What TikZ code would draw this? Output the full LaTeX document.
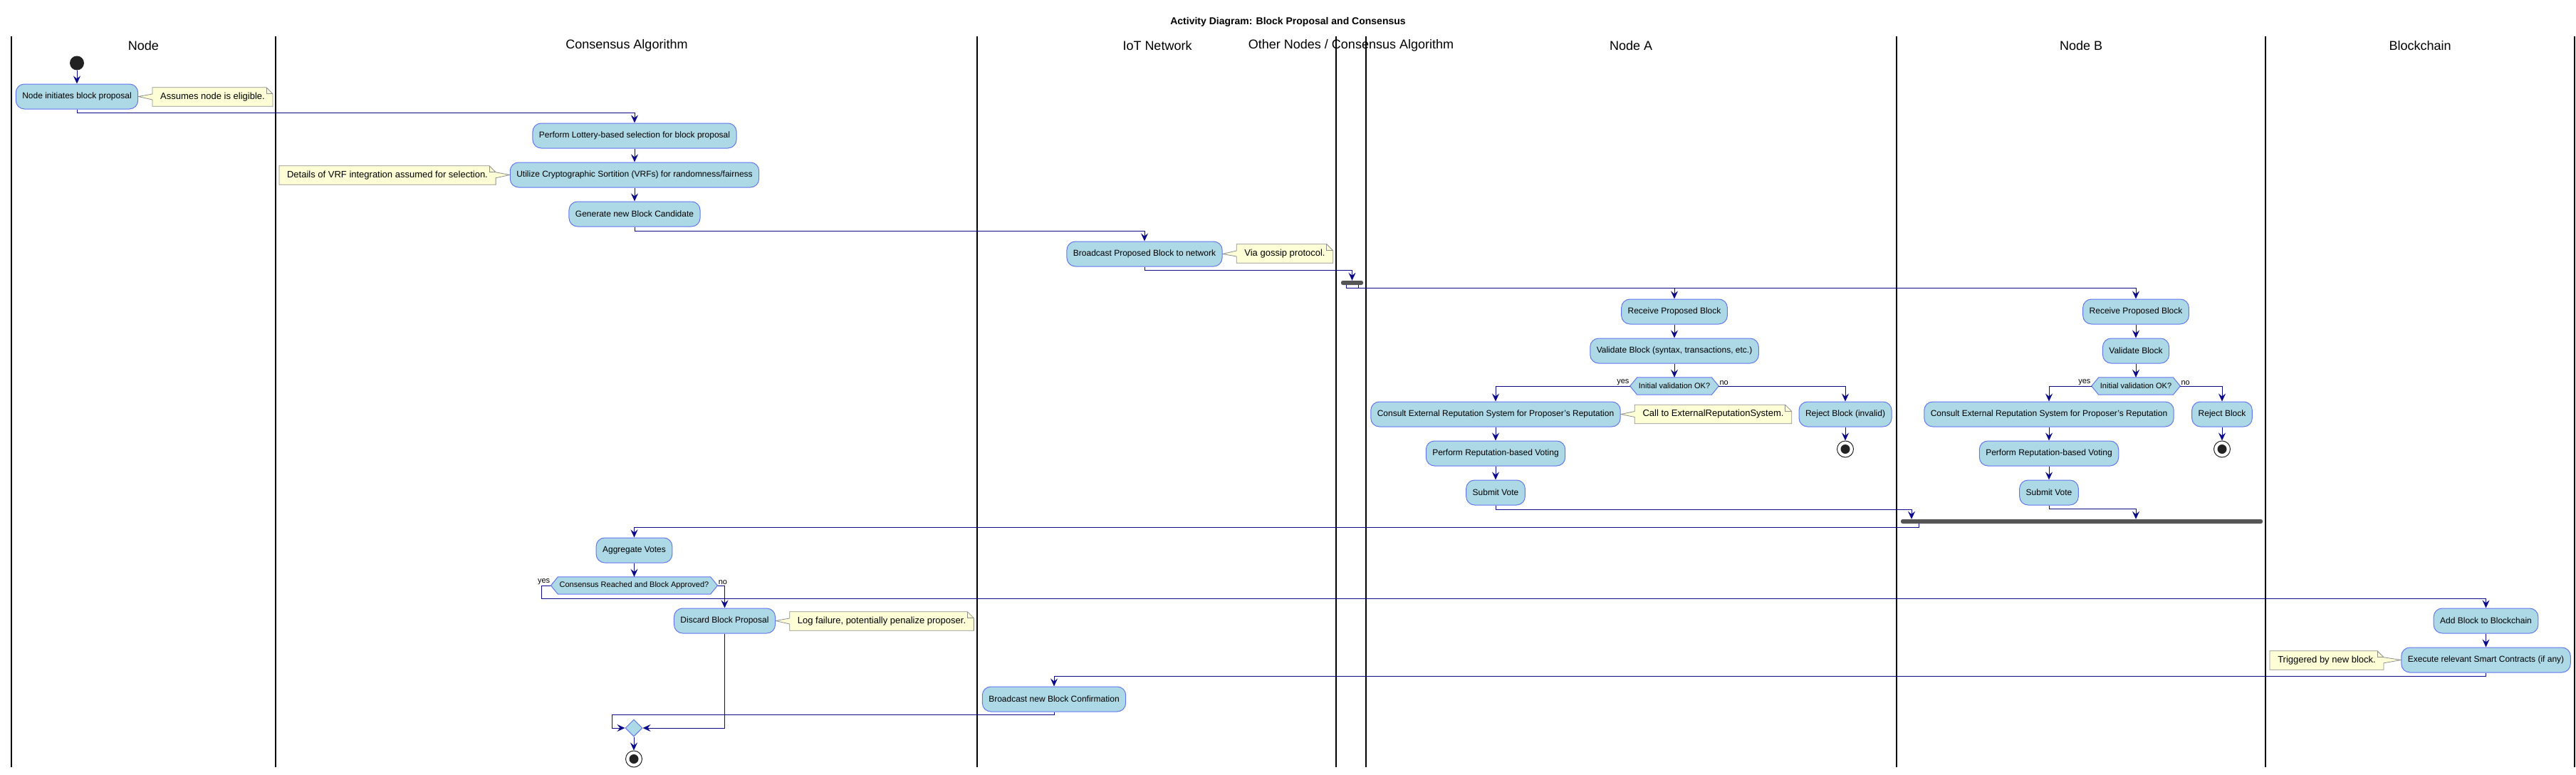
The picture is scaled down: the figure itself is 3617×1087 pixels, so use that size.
\documentclass[tikz,border=0pt]{standalone}
\usepackage{fontspec}
\setmainfont{Liberation Sans}
\usetikzlibrary{arrows.meta,shapes.geometric,backgrounds}
\definecolor{actfill}{HTML}{ADD8E6}
\definecolor{actborder}{RGB}{98,118,240}
\definecolor{flowc}{RGB}{10,10,138}
\definecolor{notefill}{HTML}{FEFED6}
\definecolor{noteborder}{HTML}{8E8E8E}
\definecolor{barc}{HTML}{555555}
\definecolor{darkdot}{HTML}{222222}
\begin{document}
\begin{tikzpicture}[x=1pt,y=-1pt,
  act/.style={draw=actborder,fill=actfill,line width=1pt,rounded corners=12pt,minimum height=35pt,inner xsep=9pt,inner ysep=0pt,font=\fontsize{12}{14}\selectfont,text=black},
  notetxt/.style={minimum height=26pt,inner xsep=11pt,inner ysep=0pt,font=\fontsize{13}{15}\selectfont},
  noteshape/.style={fill=notefill,draw=noteborder,line width=0.8pt,line join=miter},
  dec/.style={minimum height=24pt,inner xsep=12pt,inner ysep=0pt,font=\fontsize{11}{13}\selectfont},
  decshape/.style={fill=actfill,draw=actborder,line width=1pt},
  flow/.style={draw=flowc,line width=1pt,-{Stealth[length=11pt,width=10pt,inset=4pt]}},
  plainflow/.style={draw=flowc,line width=1pt},
  lane/.style={draw=black,line width=1.5pt},
  lanetitle/.style={font=\fontsize{18}{20}\selectfont,inner sep=0pt},
  bar/.style={fill=barc,rounded corners=2.5pt,inner sep=0pt,minimum height=6pt},
  lbl/.style={font=\fontsize{11}{12}\selectfont,inner sep=1pt},
  startdot/.style={circle,fill=darkdot,minimum size=20pt,inner sep=0pt},
  enddot/.style={circle,draw=darkdot,fill=white,line width=1pt,minimum size=23pt,inner sep=0pt},
  merge/.style={diamond,aspect=1,minimum width=24pt,minimum height=24pt,inner sep=0pt,fill=actfill,draw=actborder,line width=1pt}
]
\useasboundingbox (0,0) rectangle (3617,1087);

% title
\node[font=\bfseries\fontsize{14}{16}\selectfont] (title) at (1808.5,31) {Activity Diagram: Block Proposal and Consensus};

% swimlanes
\begin{scope}[on background layer]
\foreach \xx in {16,387,1372,1876,1918,2663,3181,3615}{
  \draw[lane] (\xx,51) -- (\xx,1077);
}
\end{scope}
\node[lanetitle] (hNode) at (201.5,64) {Node};
\node[lanetitle] (hCons) at (880,64) {Consensus Algorithm};
\node[lanetitle] (hIoT) at (1625,64) {IoT Network};
\node[lanetitle] (hOther) at (1897,64) {Other Nodes / Consensus Algorithm};
\node[lanetitle] (hA) at (2290,64) {Node A};
\node[lanetitle] (hB) at (2922,64) {Node B};
\node[lanetitle] (hChain) at (3398,64) {Blockchain};

% Node lane
\node[startdot] (start) at (108,88.5) {};
\node[act] (n1) at (108,135.5) {Node initiates block proposal};
\node[notetxt] (note1) at (298.5,136) {Assumes node is eligible.};

% Consensus lane
\node[act] (c1) at (891,190.5) {Perform Lottery-based selection for block proposal};
\node[act] (c2) at (891,245.5) {Utilize Cryptographic Sortition (VRFs) for randomness/fairness};
\node[notetxt] (note2) at (544,246) {Details of VRF integration assumed for selection.};
\node[act] (c3) at (891,300.5) {Generate new Block Candidate};

% IoT lane
\node[act] (i1) at (1607,356.5) {Broadcast Proposed Block to network};
\node[notetxt] (note3) at (1804,356) {Via gossip protocol.};

% fork
\node[bar,minimum width=31pt] (fork) at (1898.5,397) {};

% Node A
\node[act] (a1) at (2351,437.5) {Receive Proposed Block};
\node[act] (a2) at (2351,492.5) {Validate Block (syntax, transactions, etc.)};
\node[dec] (a3) at (2351,542) {Initial validation OK?};
\node[act] (a4) at (2100,581.5) {Consult External Reputation System for Proposer's Reputation};
\node[notetxt] (noteA) at (2405.5,581.5) {Call to ExternalReputationSystem.};
\node[act] (a5) at (2591,581.5) {Reject Block (invalid)};
\node[enddot] (aend) at (2591,630.5) {};
\fill[darkdot] (aend.center) circle (6.5);
\node[act] (a6) at (2100,636.5) {Perform Reputation-based Voting};
\node[act] (a7) at (2100,691.5) {Submit Vote};

% Node B
\node[act] (b1) at (2999,437.5) {Receive Proposed Block};
\node[act] (b2) at (2999,492.5) {Validate Block};
\node[dec] (b3) at (2999,542) {Initial validation OK?};
\node[act] (b4) at (2877,581.5) {Consult External Reputation System for Proposer's Reputation};
\node[act] (b5) at (3120,581.5) {Reject Block};
\node[enddot] (bend) at (3120,630.5) {};
\fill[darkdot] (bend.center) circle (6.5);
\node[act] (b6) at (2877,636.5) {Perform Reputation-based Voting};
\node[act] (b7) at (2877,691.5) {Submit Vote};

% join
\node[bar,minimum width=508pt] (join) at (2923,732) {};

% Consensus lane, lower part
\node[act] (c4) at (890.5,772.5) {Aggregate Votes};
\node[dec] (c5) at (890.5,822) {Consensus Reached and Block Approved?};
\node[act] (c6) at (1017.5,871.5) {Discard Block Proposal};
\node[notetxt] (noteC) at (1238,872) {Log failure, potentially penalize proposer.};

% Blockchain lane
\node[act] (k1) at (3490.5,871.5) {Add Block to Blockchain};
\node[act] (k2) at (3490.5,926.5) {Execute relevant Smart Contracts (if any)};
\node[notetxt] (noteK) at (3267,927) {Triggered by new block.};

% IoT lane, lower part
\node[act] (i2) at (1480,981.5) {Broadcast new Block Confirmation};

% merge and end
\node[merge] (mrg) at (890,1022) {};
\node[enddot] (fin) at (890,1065.5) {};
\fill[darkdot] (fin.center) circle (6.5);

% note and decision shapes
\begin{scope}[on background layer]
% notes pointing left
\foreach \nn/\tt in {note1/n1,note3/i1,noteA/a4,noteC/c6}{
  \draw[noteshape] (\nn.north west) -- ([xshift=-9pt]\nn.north east) -- ([yshift=-9pt]\nn.north east) -- (\nn.south east) -- (\nn.south west) -- ([yshift=-4pt]\nn.west) -- (\tt.east) -- ([yshift=4pt]\nn.west) -- cycle;
  \draw[noteshape,fill=none] ([xshift=-9pt]\nn.north east) -- ([xshift=-9pt,yshift=-9pt]\nn.north east) -- ([yshift=-9pt]\nn.north east);
}
% notes pointing right
\foreach \nn/\tt in {note2/c2,noteK/k2}{
  \draw[noteshape] (\nn.north west) -- ([xshift=-9pt]\nn.north east) -- ([yshift=-9pt]\nn.north east) -- (\tt.west) -- ([yshift=-17pt]\nn.north east) -- (\nn.south east) -- (\nn.south west) -- cycle;
  \draw[noteshape,fill=none] ([xshift=-9pt]\nn.north east) -- ([xshift=-9pt,yshift=-9pt]\nn.north east) -- ([yshift=-9pt]\nn.north east);
}
% decision hexagons
\foreach \dd in {a3,b3,c5}{
  \draw[decshape] (\dd.west) -- ([xshift=10pt]\dd.north west) -- ([xshift=-10pt]\dd.north east) -- (\dd.east) -- ([xshift=-10pt]\dd.south east) -- ([xshift=10pt]\dd.south west) -- cycle;
}
\end{scope}

% flows
\draw[flow] (start) -- (n1);
\draw[flow] (n1.south) -- ++(0,5) -| (c1.north);
\draw[flow] (c1) -- (c2);
\draw[flow] (c2) -- (c3);
\draw[flow] (c3.south) -- ++(0,6) -| (i1.north);
\draw[flow] (i1.south) -- ++(0,5) -| (fork.north);
\draw[flow] ([xshift=-8.5pt]fork.south) -- ++(0,4) -| (a1.north);
\draw[flow] ([xshift=-8.5pt]fork.south) -- ++(0,4) -| (b1.north);
\draw[plainflow] ([xshift=8.5pt]fork.south) -- ++(0,4);

\draw[flow] (a1) -- (a2);
\draw[flow] (a2) -- (a3);
\draw[flow] (a3.west) -| (a4.north);
\draw[flow] (a3.east) -| (a5.north);
\node[lbl,anchor=south east] (a3yes) at (a3.west) {yes};
\node[lbl,anchor=south west] (a3no) at (a3.east) {no};
\draw[flow] (a5) -- (aend);
\draw[flow] (a4) -- (a6);
\draw[flow] (a6) -- (a7);
\draw[flow] (a7.south) -- ++(0,6) -| ([xshift=-239pt]join.north);

\draw[flow] (b1) -- (b2);
\draw[flow] (b2) -- (b3);
\draw[flow] (b3.west) -| (b4.north);
\draw[flow] (b3.east) -| (b5.north);
\node[lbl,anchor=south east] (b3yes) at (b3.west) {yes};
\node[lbl,anchor=south west] (b3no) at (b3.east) {no};
\draw[flow] (b5) -- (bend);
\draw[flow] (b4) -- (b6);
\draw[flow] (b6) -- (b7);
\draw[flow] (b7.south) -- ++(0,5) -| (join.north -| b1.south);

\draw[flow] ([xshift=-229pt]join.south) -- ++(0,5) -| (c4.north);
\draw[flow] (c4) -- (c5);
\draw[flow] (c5.west) -- ++(-13,0) -- ++(0,18) -| (k1.north);
\draw[flow] (c5.east) -| (c6.north);
\node[lbl,anchor=south east] (c5yes) at (c5.west) {yes};
\node[lbl,anchor=south west] (c5no) at (c5.east) {no};
\draw[flow] (c6.south) |- (mrg.east);

\draw[flow] (k1) -- (k2);
\draw[flow] (k2.south) -- ++(0,5) -| (i2.north);
\draw[flow] (i2.south) -- ++(0,4) -| ([xshift=-18.5pt]mrg.west) -- (mrg.west);
\draw[flow] (mrg) -- (fin);
\end{tikzpicture}
\end{document}
